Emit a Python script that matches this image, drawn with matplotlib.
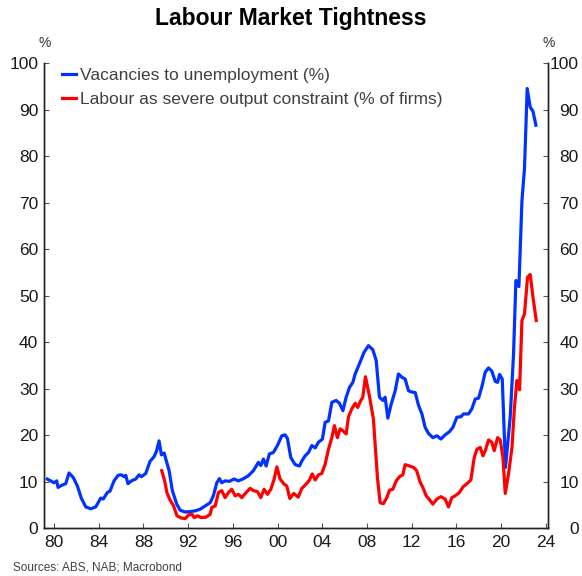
import matplotlib
matplotlib.use('Agg')
import matplotlib.pyplot as plt

plt.rcParams['font.family'] = ['Liberation Sans', 'DejaVu Sans']

# Vacancies to unemployment (%), quarterly-ish readings
vu_year = [1979.40, 1979.70, 1980.00, 1980.24, 1980.36, 1980.74, 1981.05, 1981.34, 1981.73, 1982.09,
           1982.44, 1982.84, 1983.29, 1983.73, 1984.18, 1984.41, 1984.77, 1985.01, 1985.37, 1985.73,
           1986.03, 1986.27, 1986.42, 1986.62, 1986.92, 1987.31, 1987.61, 1987.82, 1988.21, 1988.59,
           1988.95, 1989.16, 1989.40, 1989.61, 1989.85, 1990.30, 1990.59, 1990.98, 1991.28, 1991.73,
           1992.18, 1992.62, 1993.07, 1993.52, 1993.97, 1994.26, 1994.57, 1994.80, 1995.01, 1995.31,
           1995.69, 1996.11, 1996.50, 1996.89, 1997.39, 1997.84, 1998.29, 1998.50, 1998.74, 1998.98,
           1999.27, 1999.63, 1999.99, 2000.38, 2000.68, 2000.89, 2001.19, 2001.58, 2001.96, 2002.18,
           2002.47, 2002.77, 2003.07, 2003.37, 2003.66, 2004.02, 2004.26, 2004.56, 2004.86, 2005.25,
           2005.54, 2005.85, 2006.14, 2006.44, 2006.74, 2006.95, 2007.33, 2007.75, 2008.14, 2008.53,
           2008.83, 2009.12, 2009.43, 2009.63, 2009.87, 2010.17, 2010.53, 2010.82, 2011.13, 2011.42,
           2011.72, 2012.02, 2012.32, 2012.61, 2012.92, 2013.21, 2013.51, 2013.90, 2014.26, 2014.62,
           2015.00, 2015.39, 2015.69, 2016.05, 2016.41, 2016.64, 2017.09, 2017.39, 2017.69, 2017.99,
           2018.29, 2018.59, 2018.88, 2019.18, 2019.48, 2019.69, 2019.87, 2020.11, 2020.40, 2020.82,
           2021.12, 2021.33, 2021.60, 2021.87, 2022.10, 2022.34, 2022.61, 2022.86, 2023.12]
vu_value = [10.6, 10.2, 9.8, 10.2, 8.8, 9.3, 9.6, 11.9, 10.9, 9.1,
            6.5, 4.6, 4.2, 4.6, 6.5, 6.3, 7.7, 8.0, 10.2, 11.4,
            11.5, 11.1, 11.4, 9.6, 10.2, 10.6, 11.5, 11.1, 11.8, 14.4,
            15.4, 16.5, 18.8, 15.8, 16.2, 12.4, 8.1, 5.2, 3.9, 3.5,
            3.6, 3.75, 4.1, 4.8, 5.5, 7.0, 9.8, 10.7, 9.8, 10.2,
            10.1, 10.6, 10.2, 10.6, 11.3, 12.4, 14.2, 13.5, 14.9, 13.4,
            16.0, 16.3, 17.8, 19.9, 20.1, 19.3, 15.2, 13.7, 13.4, 14.5,
            15.6, 16.3, 17.8, 17.3, 18.5, 19.2, 22.8, 23.1, 27.1, 27.5,
            26.9, 25.3, 28.2, 30.3, 31.4, 33.2, 35.4, 37.9, 39.3, 38.4,
            36.1, 28.2, 27.5, 28.2, 23.7, 26.7, 29.6, 33.2, 32.5, 32.1,
            29.6, 29.3, 29.2, 26.5, 24.6, 21.7, 20.4, 19.5, 19.9, 19.2,
            20.1, 20.8, 21.7, 23.9, 24.0, 24.6, 24.6, 25.7, 27.8, 28.0,
            30.5, 33.6, 34.5, 33.8, 31.6, 31.4, 33.1, 32.1, 13.1, 23.9,
            37.5, 53.3, 52.0, 70.4, 77.5, 94.6, 90.6, 89.7, 86.7]

# Labour as severe output constraint (% of firms)
lab_year = [1989.64, 1989.90, 1990.10, 1990.40, 1990.70, 1991.00, 1991.40, 1991.75, 1992.05, 1992.35,
            1992.55, 1992.85, 1993.15, 1993.60, 1993.97, 1994.12, 1994.42, 1994.72, 1995.01, 1995.31,
            1995.61, 1995.91, 1996.20, 1996.50, 1996.80, 1997.19, 1997.55, 1997.84, 1998.20, 1998.50,
            1998.80, 1999.10, 1999.40, 1999.70, 1999.94, 2000.23, 2000.59, 2000.83, 2001.10, 2001.45,
            2001.85, 2002.18, 2002.56, 2002.86, 2003.10, 2003.37, 2003.66, 2003.96, 2004.26, 2004.56,
            2004.86, 2005.09, 2005.36, 2005.60, 2005.84, 2006.14, 2006.35, 2006.65, 2006.95, 2007.18,
            2007.45, 2007.63, 2007.87, 2008.22, 2008.58, 2008.94, 2009.18, 2009.48, 2009.78, 2010.02,
            2010.32, 2010.62, 2010.91, 2011.21, 2011.42, 2011.81, 2012.17, 2012.45, 2012.75, 2013.04,
            2013.30, 2013.55, 2013.90, 2014.26, 2014.62, 2015.00, 2015.30, 2015.60, 2015.90, 2016.28,
            2016.59, 2016.95, 2017.30, 2017.60, 2017.84, 2018.14, 2018.38, 2018.59, 2018.88, 2019.18,
            2019.39, 2019.69, 2019.93, 2020.17, 2020.38, 2020.67, 2020.98, 2021.20, 2021.42, 2021.66,
            2021.87, 2022.10, 2022.37, 2022.61, 2022.86, 2023.15]
lab_value = [12.4, 10.2, 7.7, 6.0, 4.8, 2.7, 2.2, 2.1, 2.9, 3.0,
             2.3, 2.7, 2.3, 2.4, 3.0, 4.5, 4.8, 7.7, 8.1, 6.6,
             7.7, 8.4, 7.0, 7.3, 6.6, 7.7, 8.6, 8.1, 7.9, 6.6,
             8.4, 7.3, 8.4, 10.6, 13.2, 10.6, 9.5, 9.1, 6.4, 7.5,
             6.7, 8.6, 9.5, 10.4, 11.7, 10.4, 11.5, 11.8, 13.8, 17.0,
             19.5, 22.1, 19.5, 21.4, 21.0, 20.3, 24.0, 25.7, 26.9, 26.0,
             27.5, 28.2, 32.6, 28.5, 23.5, 10.9, 5.5, 5.3, 6.6, 8.2,
             8.4, 10.2, 11.1, 11.5, 13.7, 13.4, 13.1, 12.4, 10.0, 8.6,
             7.0, 6.3, 5.2, 6.3, 6.8, 6.3, 4.6, 6.6, 7.0, 7.7,
             8.9, 9.6, 10.4, 15.2, 17.0, 17.4, 15.6, 16.7, 19.0, 18.5,
             16.7, 19.5, 19.0, 15.2, 7.5, 11.7, 17.4, 26.0, 31.8, 29.8,
             44.7, 46.1, 54.0, 54.6, 49.7, 44.7]

tick_years = [1980, 1984, 1988, 1992, 1996, 2000, 2004, 2008, 2012, 2016, 2020, 2024]
tick_labels = ['80', '84', '88', '92', '96', '00', '04', '08', '12', '16', '20', '24']
y_ticks = [0, 10, 20, 30, 40, 50, 60, 70, 80, 90, 100]

fig = plt.figure(figsize=(5.82, 5.76), dpi=100)
ax = fig.add_axes([0.0761, 0.0828, 0.8660, 0.8071])

ax.plot(vu_year, vu_value, color='#0033ff', lw=2.3, label='Vacancies to unemployment (%)')
ax.plot(lab_year, lab_value, color='#ff0000', lw=2.3, label='Labour as severe output constraint (% of firms)')

ax.set_xlim(1979.13, 2024.23)
ax.set_ylim(0, 100)
ax.set_xticks(tick_years)
ax.set_xticklabels(tick_labels)
ax.set_yticks(y_ticks)

# right-hand axis mirrors the left one
ax2 = ax.twinx()
ax2.set_ylim(0, 100)
ax2.set_yticks(y_ticks)

for a in (ax, ax2):
    a.spines['top'].set_visible(False)
    for s in ['left', 'right', 'bottom']:
        a.spines[s].set_color('#222222')
        a.spines[s].set_linewidth(1.0)

ax.tick_params(axis='y', direction='in', length=3.5, color='#555555', labelsize=12.5,
               labelcolor='#1a1a1a', pad=4.3)
ax2.tick_params(axis='y', direction='in', length=3.5, color='#555555', labelsize=12.5,
                labelcolor='#1a1a1a', pad=22.0)
plt.setp(ax2.get_yticklabels(), ha='right')
ax.tick_params(axis='x', direction='in', length=3.5, color='#555555', labelsize=12.5,
               labelcolor='#1a1a1a', pad=5)

ax.text(0.0, 1.043, '%', transform=ax.transAxes, ha='center', va='center',
        fontsize=10, color='#333333')
ax.text(1.0, 1.043, '%', transform=ax.transAxes, ha='center', va='center',
        fontsize=10, color='#333333')

leg = ax.legend(loc='upper left', frameon=False, fontsize=12.5, handlelength=0.86,
                handletextpad=0.2, labelspacing=0.53, borderaxespad=0.3,
                bbox_to_anchor=(0.0101, 1.0173))
for t in leg.get_texts():
    t.set_color('#404040')

fig.text(0.5, 1 - 18 / 576, 'Labour Market Tightness', ha='center', va='center',
         fontsize=16.5, fontweight='bold', color='black')
fig.text(13 / 582, 1 - 568 / 576, 'Sources: ABS, NAB; Macrobond', ha='left', va='center',
         fontsize=8.5, color='#404040')

fig.savefig('out.png', dpi=100)
